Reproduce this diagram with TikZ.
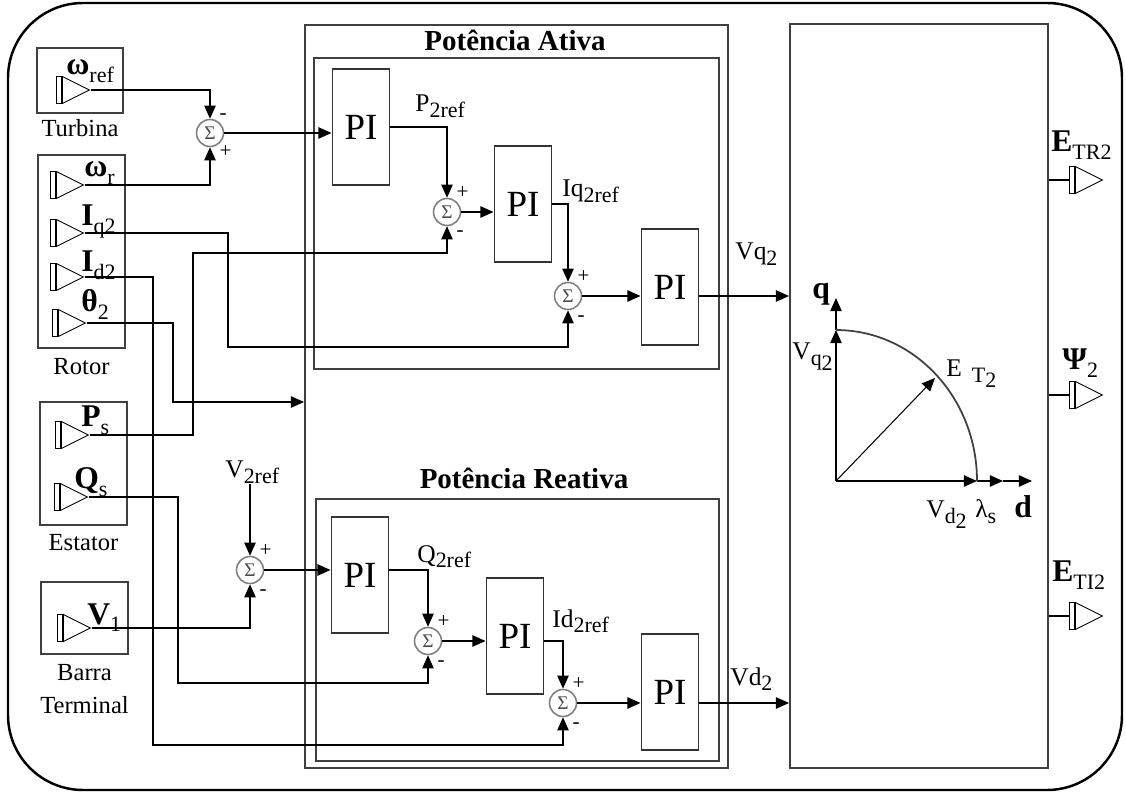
\documentclass[tikz,border=0pt]{standalone}
\usepackage{fontspec}
\setmainfont{Liberation Serif}
\usetikzlibrary{arrows.meta, positioning, shapes.geometric}
\newcommand{\subs}[1]{\raisebox{-0.5ex}{\fontsize{12.5}{12.5}\selectfont\mdseries #1}}
\tikzset{
  panel/.style={rectangle, draw=black!75, line width=1.1pt, inner sep=0pt},
  pibox/.style={
    rectangle, draw=black!80, line width=1.1pt,
    minimum width=1.14cm, minimum height=2.32cm,
    inner sep=0pt, font=\fontsize{21}{24}\selectfont
  },
  sumnode/.style={
    circle, draw=black!50, line width=0.9pt, fill=white,
    minimum size=0.54cm, inner sep=0pt, label distance=2pt,
    text=black!70, font=\fontsize{11}{11}\selectfont
  },
  ptri/.style={isosceles triangle, isosceles triangle stretches, draw, line width=0.5pt,
    minimum width=0.54cm, minimum height=0.54cm, inner sep=0pt, anchor=west},
  pbar/.style={rectangle, draw, line width=0.5pt, minimum width=0.1cm, minimum height=0.54cm, inner sep=0pt},
  wire/.style={line width=0.8pt},
  sig/.style={-{Triangle[length=7.5pt,width=6.5pt]}, line width=0.8pt},
  ttl/.style={font=\fontsize{16.5}{18}\selectfont\bfseries, anchor=base},
  boxcap/.style={font=\fontsize{14}{19}\selectfont, inner sep=0pt, align=center},
  inl/.style={font=\fontsize{18}{20}\selectfont\bfseries, inner sep=0pt, anchor=base west},
  sgl/.style={font=\fontsize{14.5}{16}\selectfont, inner sep=0pt, anchor=base west},
  axl/.style={font=\fontsize{18}{18}\selectfont\bfseries, inner sep=0pt, anchor=base west},
  sgn/.style={font=\fontsize{12}{12}\selectfont, inner sep=0pt, text height=1.7ex, text depth=0.3ex},
}

\begin{document}
\begin{tikzpicture}[x=0.02cm, y=-0.02cm]
\useasboundingbox (0,0) rectangle (1126,793);

% outer border
\draw[line width=1.4pt, rounded corners=1.5cm] (8,3) rectangle (1122,790);

% frames
\node[panel, minimum width=8.46cm, minimum height=14.86cm] (pf) at (516.5,396.5) {};
\node[panel, minimum width=8.1cm, minimum height=6.22cm] (pa) at (516.5,213.5) {};
\node[panel, minimum width=8.06cm, minimum height=5.24cm] (pr) at (517.5,630) {};
\node[panel, minimum width=5.16cm, minimum height=14.88cm] (rb) at (919,396) {};
\node[ttl] (pat) at (515,51) {Potência Ativa};
\node[ttl] (prt) at (524,489) {Potência Reativa};

% input blocks
\node[panel, minimum width=1.72cm, minimum height=1.3cm] (turb) at (80,80.5) {};
\node[boxcap, below=0.1cm of turb] (turbc) {Turbina};
\node[panel, minimum width=1.74cm, minimum height=3.86cm] (rot) at (81.5,251.5) {};
\node[boxcap, below=0.18cm of rot] (rotc) {Rotor};
\node[panel, minimum width=1.74cm, minimum height=2.46cm] (est) at (83.5,463.5) {};
\node[boxcap, below=0.16cm of est] (estc) {Estator};
\node[panel, minimum width=1.74cm, minimum height=1.44cm] (bar) at (84.5,618) {};
\node[boxcap, below=0.18cm of bar] (barc) {Barra\\Terminal};

% input ports
\node[ptri] (wref) at (62,90) {};
\node[pbar, left=0pt of wref] (wrefb) {};
\node[inl] (wrefl) at (66,75) {ω\subs{ref}};
\node[ptri] (wr) at (56,185) {};
\node[pbar, left=0pt of wr] (wrb) {};
\node[inl] (wrl) at (84,177) {ω\subs{r}};
\node[ptri] (iq2) at (56,233) {};
\node[pbar, left=0pt of iq2] (iq2b) {};
\node[inl] (iq2l) at (81,226) {I\subs{q2}};
\node[ptri] (id2) at (56,277) {};
\node[pbar, left=0pt of id2] (id2b) {};
\node[inl] (id2l) at (81,272) {I\subs{d2}};
\node[ptri] (th2) at (58,323) {};
\node[pbar, left=0pt of th2] (th2b) {};
\node[inl] (th2l) at (81,312) {θ\subs{2}};
\node[ptri] (ps) at (61,435) {};
\node[pbar, left=0pt of ps] (psb) {};
\node[inl] (psl) at (81,427) {P\subs{s}};
\node[ptri] (qs) at (60,497) {};
\node[pbar, left=0pt of qs] (qsb) {};
\node[inl] (qsl) at (74,489) {Q\subs{s}};
\node[ptri] (v1) at (63,628) {};
\node[pbar, left=0pt of v1] (v1b) {};
\node[inl] (v1l) at (87,624) {V\subs{1}};

% active power loop
\node[sumnode, label={[sgn]50:-}, label={[sgn]-50:+}] (s1) at (210,133) {Σ};
\node[pibox] (pi1) at (361,127) {PI};
\node[sumnode, label={[sgn]50:+}, label={[sgn]-50:-}] (s2) at (447,212) {Σ};
\node[pibox] (pi2) at (523,204) {PI};
\node[sumnode, label={[sgn]50:+}, label={[sgn]-50:-}] (s3) at (568,296) {Σ};
\node[pibox] (pi3) at (670,287) {PI};
\node[sgl] (p2r) at (415,112) {P\subs{2ref}};
\node[sgl] (iq2r) at (562,197) {Iq\subs{2ref}};
\node[sgl] (vq2) at (735,260) {Vq\subs{2}};

% reactive power loop
\node[sgl] (v2r) at (225,478) {V\subs{2ref}};
\node[sumnode, label={[sgn]50:+}, label={[sgn]-50:-}] (s4) at (250,570) {Σ};
\node[pibox] (pi4) at (360,575) {PI};
\node[sumnode, label={[sgn]50:+}, label={[sgn]-50:-}] (s5) at (428,641) {Σ};
\node[pibox] (pi5) at (515,636) {PI};
\node[sumnode, label={[sgn]50:+}, label={[sgn]-50:-}] (s6) at (563,703) {Σ};
\node[pibox] (pi6) at (670,692) {PI};
\node[sgl] (q2r) at (417,562) {Q\subs{2ref}};
\node[sgl] (id2r) at (552,627) {Id\subs{2ref}};
\node[sgl] (vd2) at (730,685) {Vd\subs{2}};

% forward paths
\draw[sig] (wref.east) -| (s1.north);
\draw[sig] (wr.east) -| (s1.south);
\draw[sig] (s1.east) -- (s1.east -| pi1.west);
\draw[sig] (pi1.east) -| (s2.north);
\draw[sig] (s2.east) -- (s2.east -| pi2.west);
\draw[sig] (pi2.east) -| (s3.north);
\draw[sig] (s3.east) -- (s3.east -| pi3.west);
\draw[sig] (s3 -| pi3.east) -- (s3 -| rb.west);
\draw[sig] (v2r.south -| s4) -- (s4.north);
\draw[sig] (v1.east) -| (s4.south);
\draw[sig] (s4.east) -- (s4.east -| pi4.west);
\draw[sig] (s4 -| pi4.east) -| (s5.north);
\draw[sig] (s5.east) -- (s5.east -| pi5.west);
\draw[sig] (s5 -| pi5.east) -| (s6.north);
\draw[sig] (s6.east) -- (s6.east -| pi6.west);
\draw[sig] (s6 -| pi6.east) -- (s6 -| rb.west);

% feedback paths
\coordinate (bIq) at (228,347);
\coordinate (bId) at (153,745);
\coordinate (bTh) at (173,402);
\coordinate (bPs) at (193,253);
\coordinate (bQs) at (178,683);
\draw[sig] (iq2.east) -| (bIq) -| (s3.south);
\draw[sig] (id2.east) -| (bId) -| (s6.south);
\draw[sig] (th2.east) -| (bTh) -- (bTh -| pf.west);
\draw[sig] (ps.east) -| (bPs) -| (s2.south);
\draw[sig] (qs.east) -| (bQs) -| (s5.south);

% dq phasor diagram
\coordinate (o) at (836,481);
\coordinate (qa) at (836,298);
\coordinate (vqa) at (836,330);
\coordinate (vda) at (977,481);
\coordinate (lsa) at (1003,481);
\coordinate (da) at (1032,481);
\coordinate (eta) at (935,378);
\draw[sig] (o) -- (vqa);
\draw[sig] (vqa) -- (qa);
\draw[sig] (o) -- (vda);
\draw[sig] (vda) -- (lsa);
\draw[sig] (lsa) -- (da);
\draw[sig, line width=0.6pt] (o) -- (eta);
\draw[line width=1pt, black!75] (vda) arc[start angle=0, end angle=90, x radius=2.82cm, y radius=3.02cm];
\node[axl] (ql) at (812,299) {q};
\node[sgl] (vql) at (792,360) {V\subs{q\subs{2}}};
\node[sgl] (etl) at (946,377) {E\hspace{0.2cm}\subs{T\subs{2}}};
\node[sgl] (vdl) at (926,518) {V\subs{d\subs{2}}};
\node[sgl] (lsl) at (975,518) {λ\subs{s}};
\node[axl] (dl) at (1014,518) {d};

% output ports
\node[ptri] (etr) at (1075,180) {};
\node[pbar, left=0pt of etr] (etrb) {};
\draw[wire] (etrb.west) -- (etrb.west -| rb.east);
\node[inl] (etrl) at (1051,152) {E\subs{TR2}};
\node[ptri] (psi) at (1075,395) {};
\node[pbar, left=0pt of psi] (psib) {};
\draw[wire] (psib.west) -- (psib.west -| rb.east);
\node[inl] (psil) at (1062,370) {Ψ\subs{2}};
\node[ptri] (eti) at (1075,616) {};
\node[pbar, left=0pt of eti] (etib) {};
\draw[wire] (etib.west) -- (etib.west -| rb.east);
\node[inl] (etil) at (1052,582) {E\subs{TI2}};

\end{tikzpicture}
\end{document}
